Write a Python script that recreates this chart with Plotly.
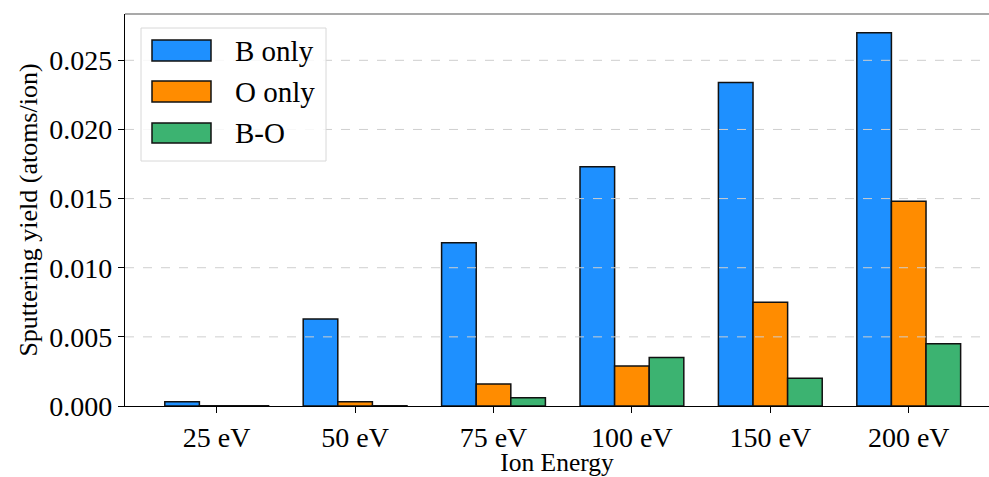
import plotly.graph_objects as go

categories = ["25 eV", "50 eV", "75 eV", "100 eV", "150 eV", "200 eV"]
b_only = [0.0003, 0.0063, 0.0118, 0.0173, 0.0234, 0.0270]
o_only = [0.00002, 0.0003, 0.0016, 0.0029, 0.0075, 0.0148]
b_o = [0.00002, 0.00002, 0.0006, 0.0035, 0.0020, 0.0045]
series_names = ["B only", "O only", "B-O"]
colors = ["#1E90FF", "#FF8C00", "#3CB371"]
y_ticks = [0.000, 0.005, 0.010, 0.015, 0.020, 0.025]

FONT = "Liberation Serif, Times New Roman, serif"

fig = go.Figure()
for name, vals, col in zip(series_names, [b_only, o_only, b_o], colors):
    fig.add_trace(go.Bar(
        x=categories, y=vals, name=name,
        marker=dict(color=col, line=dict(color="#111111", width=1.5)),
        showlegend=False,
    ))

# dashed horizontal grid drawn above bars
for t in y_ticks[1:]:
    fig.add_shape(type="line", xref="paper", yref="y", x0=0, x1=1, y0=t, y1=t,
                  line=dict(color="#cfcfcf", width=1, dash="dash"), layer="above")

# top spine (gray)
fig.add_shape(type="line", xref="paper", yref="paper", x0=0, x1=1, y0=1, y1=1,
              line=dict(color="#555555", width=1.2), layer="above")

# custom legend
W, H, L, T = 864.0, 392.0, 125.0, 406.0
def px(x):
    return (x - L) / W
def py(y):
    return (T - y) / H

fig.add_shape(type="rect", xref="paper", yref="paper",
              x0=px(141), x1=px(326), y0=py(161), y1=py(28),
              line=dict(color="#d8d8d8", width=1), fillcolor="rgba(255,255,255,0.85)",
              layer="above")
sw = [(40, 61), (81, 102), (123, 143)]
for (y0, y1), name, col in zip(sw, series_names, colors):
    fig.add_shape(type="rect", xref="paper", yref="paper",
                  x0=px(152), x1=px(211), y0=py(y1), y1=py(y0),
                  line=dict(color="#111111", width=1.5), fillcolor=col, layer="above")
    fig.add_annotation(xref="paper", yref="paper", x=px(233), y=py((y0 + y1) / 2),
                       text=name, showarrow=False, xanchor="left", yanchor="middle",
                       font=dict(family=FONT, size=29, color="black"))

fig.update_layout(
    width=989, height=477,
    margin=dict(l=125, r=0, t=14, b=71),
    paper_bgcolor="white", plot_bgcolor="white",
    barmode="group", bargap=0.25, bargroupgap=0,
    font=dict(family=FONT, color="black"),
    xaxis=dict(
        range=[-0.6625, 5.58],
        showline=True, linecolor="black", linewidth=1.2,
        ticks="outside", ticklen=6, tickcolor="black",
        tickfont=dict(size=28, family=FONT),
        showgrid=False,
        title=dict(text="Ion Energy", font=dict(size=25.5, family=FONT), standoff=4),
    ),
    yaxis=dict(
        range=[0, 0.02835],
        tickvals=y_ticks, tickformat=".3f",
        showline=True, linecolor="black", linewidth=1.2,
        ticks="outside", ticklen=6, tickcolor="black",
        tickfont=dict(size=28, family=FONT),
        showgrid=False, zeroline=False,
        title=dict(text="Sputtering yield (atoms/ion)", font=dict(size=26, family=FONT), standoff=4),
    ),
)

fig.write_html("out.html")
